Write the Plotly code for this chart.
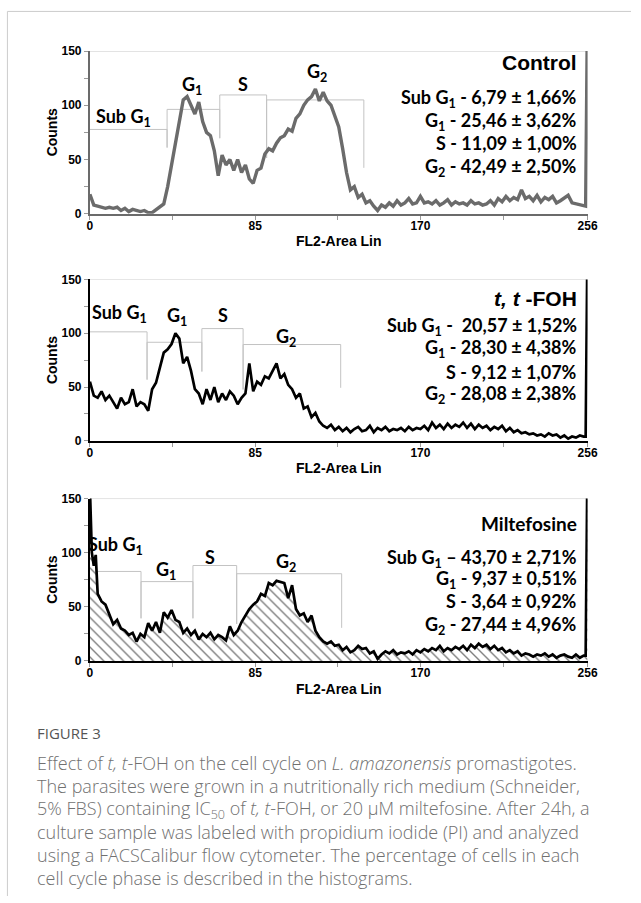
import plotly.graph_objects as go

W, H = 641, 903

# ---------------- data ----------------
channels = list(range(0, 256, 2)) + [255, 256]
channels_milte = [0, 1, 2, 3] + list(range(4, 256, 2)) + [255, 256]

control_counts = [
    18, 8, 7, 6, 5, 6, 5, 6, 3, 5,
    2, 4, 3, 2, 3, 1, 1, 4, 7, 9,
    25, 45, 68, 88, 105, 108, 100, 92, 103, 85,
    75, 72, 58, 35, 54, 45, 50, 40, 50, 38,
    45, 32, 28, 40, 42, 55, 60, 58, 65, 70,
    72, 78, 76, 88, 92, 100, 105, 108, 115, 104,
    112, 104, 100, 90, 80, 60, 38, 22, 25, 15,
    18, 10, 12, 7, 3, 8, 6, 10, 7, 12,
    8, 10, 14, 9, 10, 16, 10, 11, 9, 12,
    8, 10, 13, 8, 11, 9, 10, 8, 12, 9,
    10, 8, 9, 12, 8, 14, 11, 16, 12, 15,
    13, 22, 14, 16, 12, 17, 11, 15, 13, 16,
    10, 12, 15, 17, 10, 9, 8, 7,
    7, 200,
]

tfoh_counts = [
    55, 42, 40, 46, 38, 42, 36, 30, 40, 34,
    36, 48, 32, 36, 34, 28, 48, 54, 68, 82,
    85, 90, 100, 95, 72, 78, 65, 48, 44, 34,
    48, 38, 50, 36, 44, 38, 46, 42, 34, 40,
    44, 72, 46, 55, 52, 60, 58, 65, 72, 58,
    62, 52, 48, 40, 44, 30, 32, 22, 26, 18,
    14, 12, 15, 10, 13, 9, 12, 8, 11, 13,
    9, 10, 14, 8, 12, 10, 13, 9, 11, 10,
    12, 9, 13, 10, 12, 11, 14, 10, 17, 12,
    15, 11, 16, 12, 15, 13, 17, 12, 16, 11,
    15, 12, 14, 10, 13, 11, 14, 9, 12, 8,
    10, 7, 8, 6, 7, 5, 6, 4, 7, 5,
    6, 3, 5, 2, 4, 3, 5, 4,
    4, 200,
]

milte_counts = [
    160, 100, 88, 98,
    62, 55, 52, 42, 34, 38, 30, 28, 24, 26,
    18, 25, 22, 35, 28, 36, 26, 45, 40, 47,
    38, 36, 26, 30, 24, 28, 20, 25, 22, 26,
    20, 24, 22, 19, 32, 24, 28, 36, 42, 48,
    52, 55, 62, 60, 72, 70, 74, 73, 72, 58,
    70, 48, 42, 44, 36, 42, 28, 22, 18, 16,
    18, 14, 15, 10, 13, 8, 10, 14, 11, 12,
    7, 9, 2, 6, 9, 7, 10, 6, 8, 7,
    9, 6, 10, 8, 11, 9, 12, 10, 14, 9,
    12, 10, 13, 11, 14, 10, 15, 12, 16, 13,
    15, 11, 14, 10, 12, 8, 10, 7, 9, 5,
    7, 6, 4, 6, 5, 7, 4, 6, 3, 5,
    6, 4, 3, 6, 3, 5,
    5, 200,
]

# gates: (x_left, x_right, height, left_bottom, right_bottom)
control_gates = [(0, 39.7, 77.7, 77.7, 61), (39.7, 66.8, 96.2, 61, 69.6),
                 (66.8, 90.9, 109.5, 69.6, 51.4), (90.9, 140.9, 104.9, 51.4, 42.3)]
tfoh_gates = [(0, 29.4, 101.3, 101.3, 56.9), (29.4, 57.6, 91.6, 56.9, 64.4),
              (57.6, 78.8, 104.3, 64.4, 47.8), (78.8, 129, 89.5, 47.8, 49.3)]
milte_gates = [(0, 26.3, 82.7, 82.7, 39.4), (26.3, 53, 73.3, 39.4, 39.4),
               (53, 75.5, 88.2, 39.4, 34.2), (75.5, 129.5, 80.6, 34.2, 30.6)]

gate_names = ["Sub G<sub>1</sub>", "G<sub>1</sub>", "S", "G<sub>2</sub>"]
control_gate_label_pos = [(17.5, 89), (52.4, 118.5), (79, 119.5), (117, 130.6)]
tfoh_gate_label_pos = [(15.4, 118), (44.6, 116), (68.5, 117), (100.8, 96)]
milte_gate_label_pos = [(13.4, 107), (39, 83.6), (61.7, 95.7), (100.8, 91)]

control_title = "Control"
tfoh_title = "<i>t,</i> <i>t</i> -FOH"
milte_title = "Miltefosine"

control_stats = ["Sub G<sub>1</sub> - 6,79 ± 1,66%", "G<sub>1</sub> - 25,46 ± 3,62%",
                 "S - 11,09 ± 1,00%", "G<sub>2</sub> - 42,49 ± 2,50%"]
tfoh_stats = ["Sub G<sub>1</sub> -  20,57 ± 1,52%", "G<sub>1</sub> - 28,30 ± 4,38%",
              "S - 9,12 ± 1,07%", "G<sub>2</sub> - 28,08 ± 2,38%"]
milte_stats = ["Sub G<sub>1</sub> – 43,70 ± 2,71%", "G<sub>1</sub> - 9,37 ± 0,51%",
               "S - 3,64 ± 0,92%", "G<sub>2</sub> - 27,44 ± 4,96%"]

control_title_y, control_stats_y = 139, [105.8, 85.3, 65, 42.3]
tfoh_title_y, tfoh_stats_y = 132.5, [106.7, 85.6, 64.4, 43.2]
milte_title_y, milte_stats_y = 127, [94.8, 75.1, 55.4, 32.7]

x_ticks = [0, 85, 170, 256]
x_minor = [42.5, 127.5, 212.5]
y_ticks = [0, 50, 100, 150]
y_minor = [25, 75, 125]

caption_lines = [
    "Effect of <i>t, t</i>-FOH on the cell cycle on <i>L. amazonensis</i> promastigotes.",
    "The parasites were grown in a nutritionally rich medium (Schneider,",
    "5% FBS) containing IC<sub>50</sub> of <i>t, t</i>-FOH, or 20 µM miltefosine. After 24h, a",
    "culture sample was labeled with propidium iodide (PI) and analyzed",
    "using a FACSCalibur flow cytometer. The percentage of cells in each",
    "cell cycle phase is described in the histograms.",
]

# ---------------- layout geometry (pixels) ----------------
PLOT_L, PLOT_R = 88.7, 596.7
panels_px = [(44.7, 210.0), (276.7, 440.7), (499.3, 664.3)]

AX_FONT = "Liberation Sans, Arial, sans-serif"
CAL_FONT = "Lato, Carlito, Calibri, sans-serif"

fig = go.Figure()

series = [
    (channels, control_counts, control_gates, control_gate_label_pos, control_title,
     control_stats, control_title_y, control_stats_y, "#6b6b6b", 3.4, "#6b6b6b"),
    (channels, tfoh_counts, tfoh_gates, tfoh_gate_label_pos, tfoh_title,
     tfoh_stats, tfoh_title_y, tfoh_stats_y, "#000000", 2.7, "#000000"),
    (channels_milte, milte_counts, milte_gates, milte_gate_label_pos, milte_title,
     milte_stats, milte_title_y, milte_stats_y, "#000000", 2.7, "#000000"),
]

annotations = []
shapes = []
layout_axes = {}

TEXT_X = 251.5

for i, (xs, ys, gates, glpos, title, stats, title_y, stats_y, lcolor, lwidth, axcolor) in enumerate(series):
    n = i + 1
    xa = "x" if n == 1 else f"x{n}"
    ya = "y" if n == 1 else f"y{n}"
    top, bottom = panels_px[i]

    # gates
    for (x1, x2, h, lb, rb) in gates:
        fig.add_trace(go.Scatter(x=[x1, x1, x2, x2], y=[lb, h, h, rb], mode="lines",
                                 line=dict(color="#c3c3c3", width=1), hoverinfo="skip",
                                 showlegend=False, xaxis=xa, yaxis=ya))
    # histogram
    kw = {}
    if i == 2:
        kw = dict(fill="tozeroy", fillcolor="white",
                  fillpattern=dict(shape="\\", fgcolor="#000000", bgcolor="white",
                                   size=7, solidity=0.2))
    fig.add_trace(go.Scatter(x=xs, y=ys, mode="lines",
                             line=dict(color=lcolor, width=lwidth, shape="linear"),
                             hoverinfo="skip", showlegend=False, xaxis=xa, yaxis=ya, **kw))

    # top light border
    shapes.append(dict(type="line", xref=xa, yref=ya, x0=0, x1=256, y0=150, y1=150,
                       line=dict(color="#c8c8c8", width=1), layer="below"))

    # gate labels
    for name, (gx, gy) in zip(gate_names, glpos):
        annotations.append(dict(x=gx, y=gy, xref=xa, yref=ya, text=name, showarrow=False,
                                xanchor="center", yanchor="middle",
                                font=dict(family=CAL_FONT, size=18, color="black", weight="bold")))
    # title
    tfont = AX_FONT if i < 2 else CAL_FONT
    tsize = 21 if i < 2 else 19
    annotations.append(dict(x=TEXT_X, y=title_y, xref=xa, yref=ya, text=title, showarrow=False,
                            xanchor="right", yanchor="middle",
                            font=dict(family=tfont, size=tsize, color="black", weight="bold")))
    for s, sy in zip(stats, stats_y):
        annotations.append(dict(x=TEXT_X, y=sy, xref=xa, yref=ya, text=s, showarrow=False,
                                xanchor="right", yanchor="middle",
                                font=dict(family=CAL_FONT, size=18, color="black", weight="bold")))

    # axis titles
    annotations.append(dict(x=50 / W, y=1 - (top + bottom) / 2 / H, xref="paper", yref="paper",
                            text="Counts", textangle=-90, showarrow=False,
                            xanchor="center", yanchor="middle",
                            font=dict(family=AX_FONT, size=14, color="black", weight="bold")))
    annotations.append(dict(x=(PLOT_L + PLOT_R) / 2 / W, y=1 - (bottom + 28) / H,
                            xref="paper", yref="paper", text="FL2-Area Lin", showarrow=False,
                            xanchor="center", yanchor="middle",
                            font=dict(family=AX_FONT, size=14, color="black", weight="bold")))

    xkey = "xaxis" if n == 1 else f"xaxis{n}"
    ykey = "yaxis" if n == 1 else f"yaxis{n}"
    layout_axes[xkey] = dict(
        domain=[PLOT_L / W, PLOT_R / W], anchor=ya, range=[0, 256], showgrid=False,
        zeroline=False, showline=True, linecolor=axcolor, linewidth=2,
        tickvals=x_ticks, ticktext=[str(v) for v in x_ticks], ticks="outside", ticklen=4,
        tickcolor="#9a9a9a", tickwidth=1, ticklabelstandoff=-4,
        minor=dict(tickvals=x_minor, ticks="outside", ticklen=4, tickcolor="#9a9a9a", tickwidth=1),
        tickfont=dict(family=AX_FONT, size=12, color="black", weight="bold"),
        fixedrange=True)
    layout_axes[ykey] = dict(
        domain=[1 - bottom / H, 1 - top / H], anchor=xa, range=[0, 150], showgrid=False,
        zeroline=False, showline=True, linecolor=axcolor, linewidth=2,
        tickvals=y_ticks, ticktext=[str(v) for v in y_ticks], ticks="outside", ticklen=4,
        tickcolor="#9a9a9a", tickwidth=1,
        minor=dict(tickvals=y_minor, ticks="outside", ticklen=4, tickcolor="#9a9a9a", tickwidth=1),
        tickfont=dict(family=AX_FONT, size=12, color="black", weight="bold"),
        fixedrange=True)

# outer frame
shapes.append(dict(type="line", xref="paper", yref="paper", x0=4.5 / W, x1=4.5 / W,
                   y0=0, y1=1 - 4.5 / H, line=dict(color="#cccccc", width=1)))
shapes.append(dict(type="line", xref="paper", yref="paper", x0=4.5 / W, x1=1,
                   y0=1 - 4.5 / H, y1=1 - 4.5 / H, line=dict(color="#cccccc", width=1)))

# caption
CAP_FONT = "Open Sans, Noto Sans, sans-serif"
annotations.append(dict(x=33 / W, y=1 - 737 / H, xref="paper", yref="paper", text="FIGURE 3",
                        showarrow=False, xanchor="left", yanchor="middle",
                        font=dict(family=CAP_FONT, size=15, color="#555555")))
cap_y0, cap_dy = 768, 23.4
for k, line in enumerate(caption_lines):
    annotations.append(dict(x=33 / W, y=1 - (cap_y0 + k * cap_dy) / H, xref="paper", yref="paper",
                            text=line, showarrow=False, xanchor="left", yanchor="middle",
                            font=dict(family=CAP_FONT, size=18, color="#707070", weight=300)))

fig.update_layout(
    width=W, height=H, autosize=False,
    margin=dict(l=0, r=0, t=0, b=0),
    paper_bgcolor="white", plot_bgcolor="white",
    showlegend=False,
    annotations=annotations, shapes=shapes,
    **layout_axes,
)

fig.write_html("out.html", config={"displayModeBar": False})
